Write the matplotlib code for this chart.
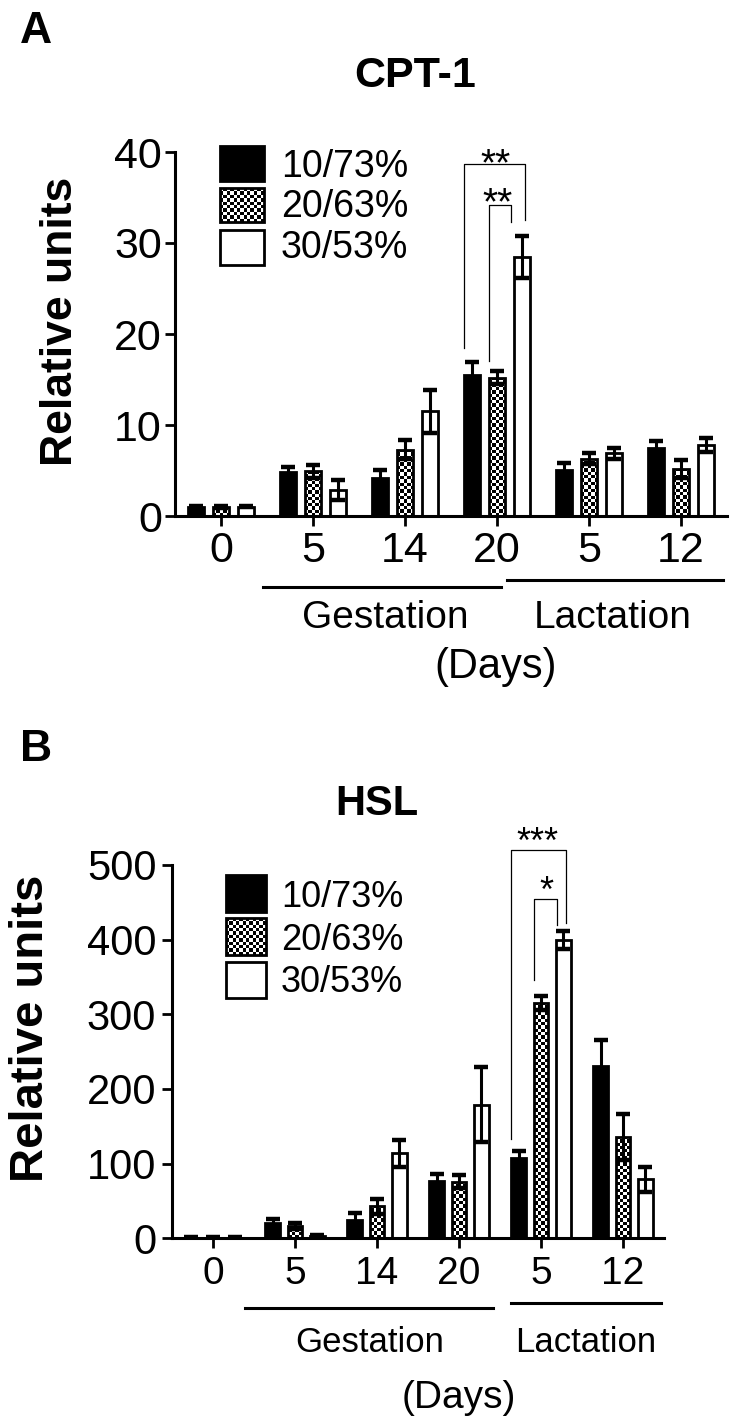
import numpy as np
import matplotlib
matplotlib.use("Agg")
import matplotlib.pyplot as plt
from matplotlib.patches import Rectangle

plt.rcParams['font.family'] = ['Liberation Sans', 'DejaVu Sans']

groups = ['0', '5', '14', '20', '5', '12']
series = ['10/73%', '20/63%', '30/53%']

# CPT-1 (panel A)
cpt1_low = [1.0, 4.8, 4.2, 15.5, 5.1, 7.5]
cpt1_low_err = [0.05, 0.6, 0.9, 1.4, 0.7, 0.7]
cpt1_mid = [1.0, 4.9, 7.3, 15.2, 6.3, 5.2]
cpt1_mid_err = [0.1, 0.7, 1.0, 0.7, 0.6, 1.0]
cpt1_high = [1.0, 2.9, 11.5, 28.5, 6.9, 7.8]
cpt1_high_err = [0.05, 1.1, 2.4, 2.3, 0.6, 0.8]

# HSL (panel B)
hsl_low = [1, 21, 25, 77, 107, 231]
hsl_low_err = [0.5, 5, 9, 9, 10, 34]
hsl_mid = [1, 16, 43, 76, 315, 136]
hsl_mid_err = [0.5, 4, 10, 9, 9, 31]
hsl_high = [1, 3, 114, 179, 400, 79]
hsl_high_err = [0.5, 1, 18, 50, 12, 17]

W, H = 748, 1428
fig = plt.figure(figsize=(W / 100, H / 100), dpi=100)


def fx(x):
    return x / W


def fy(y):
    return 1 - y / H


def checker_fill(ax, patch, cell=3.3):
    bb = patch.get_window_extent()
    nx = max(1, int(round(bb.width / cell)))
    ny = max(1, int(round(bb.height / cell)))
    arr = np.indices((ny, nx)).sum(axis=0) % 2
    inv = ax.transData.inverted()
    (x0, y0), (x1, y1) = inv.transform([(bb.x0, bb.y0), (bb.x1, bb.y1)])
    im = ax.imshow(arr, extent=(x0, x1, y0, y1), origin='lower', cmap='gray',
                   vmin=0, vmax=1, interpolation='nearest', aspect='auto',
                   zorder=patch.get_zorder() - 0.05)
    im.set_clip_path(patch)


def panel(box, vals, errs, ymax, yticks, lay):
    l, t, r, b = box
    ax = fig.add_axes([fx(l), fy(b), (r - l) / W, (b - t) / H])
    ax.set_xlim(-0.5, 5.5)
    ax.set_ylim(0, ymax)
    x = np.arange(len(groups))
    off, w = 0.27, 0.18
    styles = [dict(facecolor='black'), dict(facecolor='none'), dict(facecolor='white')]
    for i in range(3):
        bars = ax.bar(x + off * (i - 1), vals[i], width=w, edgecolor='black',
                      linewidth=2, zorder=2, **styles[i])
        if i == 1:
            for p in bars:
                checker_fill(ax, p)
        ax.errorbar(x + off * (i - 1), vals[i], yerr=errs[i], fmt='none', ecolor='black',
                    elinewidth=2.2, capsize=5, capthick=3.2, zorder=3)

    for s in ['top', 'right']:
        ax.spines[s].set_visible(False)
    for s in ['left', 'bottom']:
        ax.spines[s].set_linewidth(2.2)
    ax.set_xticks(x)
    ax.set_xticklabels(groups)
    ax.set_yticks(yticks)
    ax.tick_params(direction='out', length=7, width=2)
    ax.tick_params(axis='x', labelsize=lay['xfs'], pad=lay['xpad'])
    ax.tick_params(axis='y', labelsize=lay['yfs'], pad=lay['ypad'])

    ax.set_ylabel('Relative units', fontsize=lay['ylfs'], fontweight='bold')
    ax.yaxis.set_label_coords(*lay['ylpos'])
    ax.set_title(lay['title'], fontsize=lay['tfs'], fontweight='bold',
                 x=lay['tpos'][0], y=lay['tpos'][1])

    # legend
    for i, (x0, x1, y0, y1) in enumerate(lay['leg_boxes']):
        rect = Rectangle((fx(x0), fy(y1)), (x1 - x0) / W, (y1 - y0) / H,
                         transform=fig.transFigure, edgecolor='black', linewidth=2,
                         clip_on=False, zorder=5, **styles[i])
        ax.add_artist(rect)
        if i == 1:
            checker_fill(ax, rect)
        fig.text(fx(lay['leg_tx']), fy(lay['leg_base'][i]), series[i],
                 fontsize=lay['lfs'], ha='left', va='baseline')

    # significance brackets
    for xl, xr, ytop, ylb, yrb in lay['brackets']:
        ax.plot([xl, xl, xr, xr], [ylb, ytop, ytop, yrb], color='black', lw=0.9,
                clip_on=False, zorder=4)
    for sx, sy, txt in lay['stars']:
        ax.text(sx, sy, txt, fontsize=lay['sfs'], ha='center', va='baseline')

    # stage labels
    tr = ax.get_xaxis_transform()
    for (xa, xb, yy) in lay['lines']:
        ax.plot([xa, xb], [yy, yy], color='black', lw=2.2, transform=tr, clip_on=False)
    for (tx, ty, txt, fs) in lay['labels']:
        ax.text(tx, ty, txt, transform=tr, fontsize=fs, ha='center', va='baseline')
    return ax


layA = dict(
    xfs=31, yfs=31, xpad=4, ypad=2.5, ylfs=32, ylpos=(-0.170, 0.536),
    title='CPT-1', tfs=31, tpos=(0.4348, 1.1566),
    leg_boxes=[(220.4, 263.6, 146.4, 180.6), (220.4, 263.6, 188.4, 221.6),
               (220.4, 263.6, 230.4, 264.6)],
    leg_tx=281, leg_base=[176.7, 217.3, 258.3], lfs=27,
    brackets=[(2.64, 3.30, 38.7, 18.5, 32.5), (2.91, 3.15, 34.2, 17.0, 32.3)],
    stars=[(2.98, 37.4, '**'), (3.01, 33.2, '**')], sfs=28,
    lines=[(0.46, 3.04, -0.196), (3.11, 5.46, -0.176)],
    labels=[(1.79, -0.3077, 'Gestation', 28), (4.26, -0.3077, 'Lactation', 28),
            (2.98, -0.445, '(Days)', 30)],
)

layB = dict(
    xfs=28, yfs=30, xpad=6, ypad=4.3, ylfs=34, ylpos=(-0.2425, 0.563),
    title='HSL', tfs=30, tpos=(0.4167, 1.1125),
    leg_boxes=[(226.4, 265.6, 875.4, 911.6), (226.4, 265.6, 918.4, 954.6),
               (226.4, 265.6, 962.4, 997.6)],
    leg_tx=281, leg_base=[906.7, 950, 991.7], lfs=26,
    brackets=[(3.64, 4.31, 519.8, 133, 422), (3.92, 4.19, 455, 346, 419)],
    stars=[(3.96, 516, '***'), (4.06, 450, '*')], sfs=26,
    lines=[(0.39, 3.41, -0.1875), (3.63, 5.46, -0.174)],
    labels=[(1.91, -0.3038, 'Gestation', 25), (4.55, -0.3038, 'Lactation', 25),
            (3.0, -0.4546, '(Days)', 28)],
)

panel((175, 152, 727, 516), [cpt1_low, cpt1_mid, cpt1_high],
      [cpt1_low_err, cpt1_mid_err, cpt1_high_err], 40, [0, 10, 20, 30, 40], layA)
panel((172, 865, 664, 1238.3), [hsl_low, hsl_mid, hsl_high],
      [hsl_low_err, hsl_mid_err, hsl_high_err], 500, [0, 100, 200, 300, 400, 500], layB)

fig.text(fx(20), fy(42.7), 'A', fontsize=32, fontweight='bold', va='baseline')
fig.text(fx(20), fy(761), 'B', fontsize=32, fontweight='bold', va='baseline')

fig.savefig('out.png', dpi=100)
